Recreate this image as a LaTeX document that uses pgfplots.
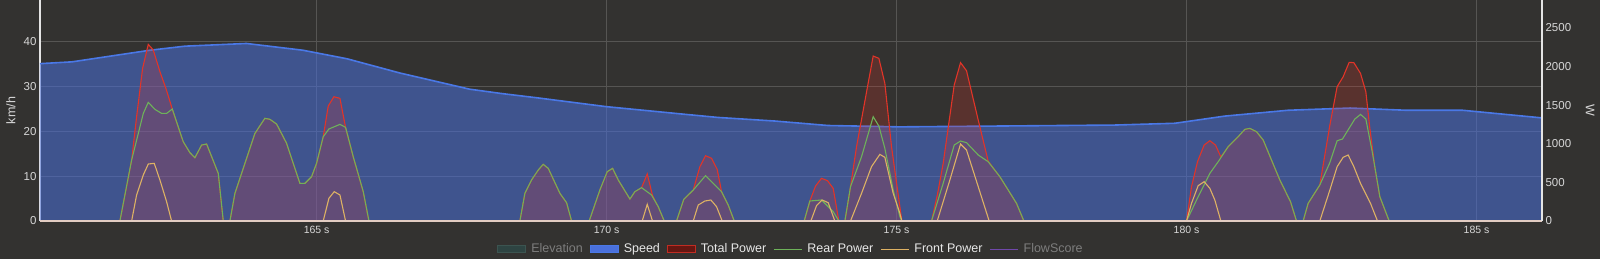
\documentclass[border=0pt]{standalone}
\usepackage{fontspec}
\setmainfont{Liberation Sans}
\usepackage{pgfplots}
\usepackage{pgfplotstable}
\pgfplotsset{compat=1.18}

\definecolor{bgcol}{RGB}{51,50,48}
\definecolor{gridcol}{RGB}{86,85,83}
\definecolor{axiscol}{RGB}{228,228,228}
\definecolor{basecol}{RGB}{226,204,194}
\definecolor{tickcol}{RGB}{215,215,215}
\definecolor{speedline}{RGB}{74,120,230}
\definecolor{speedfill}{RGB}{74,112,220}
\definecolor{totalline}{RGB}{226,52,40}
\definecolor{rearline}{RGB}{110,178,90}
\definecolor{frontline}{RGB}{222,178,100}
\definecolor{flowline}{RGB}{112,72,170}
\definecolor{elevfill}{RGB}{46,68,66}
\definecolor{elevline}{RGB}{60,84,80}
\definecolor{legtext}{RGB}{232,232,232}
\definecolor{legdim}{RGB}{125,125,125}

% speed in km/h
\pgfplotstableread{
t v
160.23 35.1
160.78 35.5
161.61 37.1
162.13 38.1
162.73 39.0
163.79 39.6
164.76 38.1
165.52 36.2
166.44 33.0
167.64 29.4
168.21 28.4
168.79 27.5
170.00 25.5
171.35 23.8
171.92 23.1
172.90 22.3
173.82 21.3
175.06 21.0
178.76 21.4
179.80 21.8
180.66 23.4
181.75 24.7
182.82 25.2
183.79 24.7
184.76 24.7
186.13 23.0
}\speed

% total power in W
\pgfplotstableread{
t p
160.23 0
161.608 0
161.810 790
161.896 1351
161.999 1977
162.097 2288
162.183 2215
162.298 1934
162.401 1718
162.511 1450
162.700 1027
162.815 885
162.901 820
163.017 984
163.103 997
163.304 617
163.390 0
163.505 0
163.591 358
163.936 1135
164.108 1330
164.195 1317
164.310 1256
164.482 1006
164.712 488
164.798 488
164.913 574
164.999 747
165.114 1092
165.200 1489
165.298 1610
165.402 1589
165.499 1213
165.631 833
165.804 380
165.902 0
168.505 0
168.591 358
168.706 531
168.821 660
168.907 734
168.994 682
169.195 358
169.310 237
169.396 0
169.700 0
169.884 401
170.011 639
170.103 682
170.201 531
170.402 285
170.488 380
170.603 432
170.701 609
170.792 330
170.890 186
170.994 0
171.206 0
171.330 280
171.494 401
171.609 704
171.706 846
171.810 812
171.907 669
171.982 380
172.097 207
172.201 0
173.407 0
173.505 259
173.603 453
173.706 553
173.810 522
173.907 423
174.005 0
174.109 0
174.206 445
174.310 963
174.499 1740
174.597 2137
174.695 2107
174.798 1783
174.913 963
175.057 186
175.091 0
175.603 0
175.701 330
175.804 747
175.994 1761
176.103 2051
176.206 1947
176.408 1308
176.580 775
176.781 574
176.925 401
177.068 229
177.195 0
180.000 0
180.086 445
180.189 768
180.304 984
180.402 1040
180.500 984
180.592 830
180.718 963
180.890 1092
181.005 1187
181.092 1200
181.207 1157
181.322 1049
181.465 790
181.609 531
181.793 250
181.896 0
182.011 0
182.097 229
182.298 466
182.471 1240
182.597 1740
182.701 1869
182.804 2055
182.885 2051
183.000 1912
183.092 1675
183.161 1200
183.247 700
183.333 315
183.494 0
186.13 0
}\total

% rear power in W
\pgfplotstableread{
t p
160.23 0
161.608 0
161.810 790
162.011 1394
162.097 1537
162.212 1446
162.327 1394
162.413 1394
162.511 1450
162.700 1027
162.815 885
162.901 820
163.017 984
163.103 997
163.304 617
163.390 0
163.505 0
163.591 358
163.936 1135
164.108 1330
164.195 1317
164.310 1256
164.482 1006
164.712 488
164.798 488
164.913 574
164.999 747
165.114 1092
165.212 1192
165.402 1252
165.499 1213
165.631 833
165.804 380
165.902 0
168.505 0
168.591 358
168.706 531
168.821 660
168.907 734
168.994 682
169.195 358
169.310 237
169.396 0
169.700 0
169.884 401
170.011 639
170.103 682
170.201 531
170.402 285
170.488 380
170.603 432
170.775 337
170.890 186
170.994 0
171.206 0
171.330 280
171.494 401
171.706 587
171.982 380
172.097 207
172.201 0
173.407 0
173.505 259
173.706 272
173.907 121
174.005 0
174.109 0
174.206 445
174.396 833
174.597 1351
174.695 1230
174.798 941
174.942 401
175.057 56
175.091 0
175.603 0
175.804 488
175.994 984
176.103 1036
176.206 1015
176.408 855
176.580 768
176.781 574
176.925 401
177.068 229
177.195 0
180.000 0
180.201 315
180.402 617
180.546 768
180.718 963
180.890 1092
181.005 1187
181.092 1200
181.207 1157
181.322 1049
181.465 790
181.609 531
181.793 250
181.896 0
182.011 0
182.097 229
182.298 466
182.471 755
182.597 1040
182.689 1062
182.902 1321
183.000 1381
183.092 1321
183.207 876
183.333 315
183.494 0
186.13 0
}\rear

% front power in W
\pgfplotstableread{
t p
160.23 0
161.810 0
161.896 337
162.011 596
162.097 738
162.200 747
162.298 531
162.413 250
162.499 0
165.114 0
165.212 294
165.304 380
165.402 337
165.499 0
170.614 0
170.701 216
170.792 0
171.494 0
171.580 207
171.695 259
171.798 272
171.896 186
171.994 0
173.522 0
173.620 199
173.718 272
173.821 237
173.936 0
174.206 0
174.396 358
174.568 704
174.712 863
174.798 825
174.942 358
175.057 99
175.091 0
175.701 0
175.919 531
176.103 997
176.206 920
176.408 445
176.597 0
180.000 0
180.086 229
180.201 458
180.304 509
180.402 423
180.488 272
180.592 0
182.298 0
182.471 400
182.597 704
182.701 825
182.787 855
182.885 704
183.000 488
183.172 229
183.293 0
186.13 0
}\front

\pgfplotsset{
  common/.style={
    at={(40pt,38pt)}, anchor=south west,
    scale only axis, width=1502pt, height=221pt,
    xmin=160.23, xmax=186.13, ymin=0,
    separate axis lines,
    every outer x axis line/.append style={-},
    every outer y axis line/.append style={-},
    major tick length=0pt,
    xtick={165,170,175,180,185},
    /pgf/number format/assume math mode=true,
    /pgf/number format/1000 sep={},
    scaled y ticks=false,
    tick label style={text=tickcol},
    yticklabel style={font=\fontsize{11.5}{13}\selectfont},
    xticklabel style={font=\fontsize{10.5}{12}\selectfont, yshift=-1.5pt},
    label style={text=tickcol, font=\fontsize{12.5}{14}\selectfont},
  }
}

\begin{document}
\begin{tikzpicture}
\useasboundingbox (0,0) rectangle (1600pt,259pt);
\fill[bgcol] (0,0) rectangle (1600pt,259pt);

% left axis: speed
\begin{axis}[common,
  ymax=49.3,
  axis x line*=bottom, axis y line*=left,
  x axis line style={draw=none},
  y axis line style={draw=axiscol, line width=1.2pt},
  xticklabels={,,,,},
  ytick={0,10,20,30,40},
  grid=major, grid style={gridcol, line width=0.8pt},
  ylabel={km/h},
  ylabel style={at={(axis description cs:-0.0193,0.5)}, anchor=center},
]
\addplot[draw=none, fill=speedfill, fill opacity=0.55] table {\speed} \closedcycle;
\addplot[speedline, line width=1.6pt] table {\speed};
\end{axis}

% right axis: power
\begin{axis}[common,
  ymax=2863,
  axis on top,
  axis x line*=bottom, axis y line*=right,
  x axis line style={draw=basecol, line width=1.3pt},
  y axis line style={draw=axiscol, line width=1.2pt},
  xticklabels={165 s,170 s,175 s,180 s,185 s},
  ytick={0,500,1000,1500,2000,2500},
  ylabel={W},
  ylabel style={at={(axis description cs:1.032,0.5)}, anchor=center, rotate=180},
  legend columns=6,
  legend cell align=left,
  legend style={at={(axis description cs:0.5,-0.127)}, anchor=center,
    draw=none, fill=none, inner sep=0pt,
    font=\fontsize{12.5}{14}\selectfont, text=legtext,
    nodes={inner sep=2pt},
    /tikz/every odd column/.append style={column sep=3pt},
    /tikz/every even column/.append style={column sep=5pt}},
]
\addplot[forget plot, draw=none, fill=totalline, fill opacity=0.22] table {\total} \closedcycle;
\addplot[forget plot, totalline, line width=1.1pt] table {\total};
\addplot[forget plot, rearline, line width=1.1pt] table {\rear};
\addplot[forget plot, frontline, line width=1.1pt] table {\front};

\addlegendimage{legend image code/.code={\draw[fill=elevfill, draw=elevline, line width=1pt] (0pt,-3.5pt) rectangle (28pt,3.5pt);}}
\addlegendentry[text=legdim]{Elevation}
\addlegendimage{legend image code/.code={\draw[fill=speedfill, draw=speedline, line width=1pt] (0pt,-3.5pt) rectangle (28pt,3.5pt);}}
\addlegendentry{Speed}
\addlegendimage{legend image code/.code={\draw[fill=totalline!45!black, draw=totalline!85!black, line width=1pt] (0pt,-3.5pt) rectangle (28pt,3.5pt);}}
\addlegendentry{Total Power}
\addlegendimage{legend image code/.code={\draw[rearline, line width=1.1pt] (0pt,0pt) -- (28pt,0pt);}}
\addlegendentry{Rear Power}
\addlegendimage{legend image code/.code={\draw[frontline, line width=1.1pt] (0pt,0pt) -- (28pt,0pt);}}
\addlegendentry{Front Power}
\addlegendimage{legend image code/.code={\draw[flowline, line width=1.1pt] (0pt,0pt) -- (28pt,0pt);}}
\addlegendentry[text=legdim]{FlowScore}
\end{axis}
\end{tikzpicture}
\end{document}
